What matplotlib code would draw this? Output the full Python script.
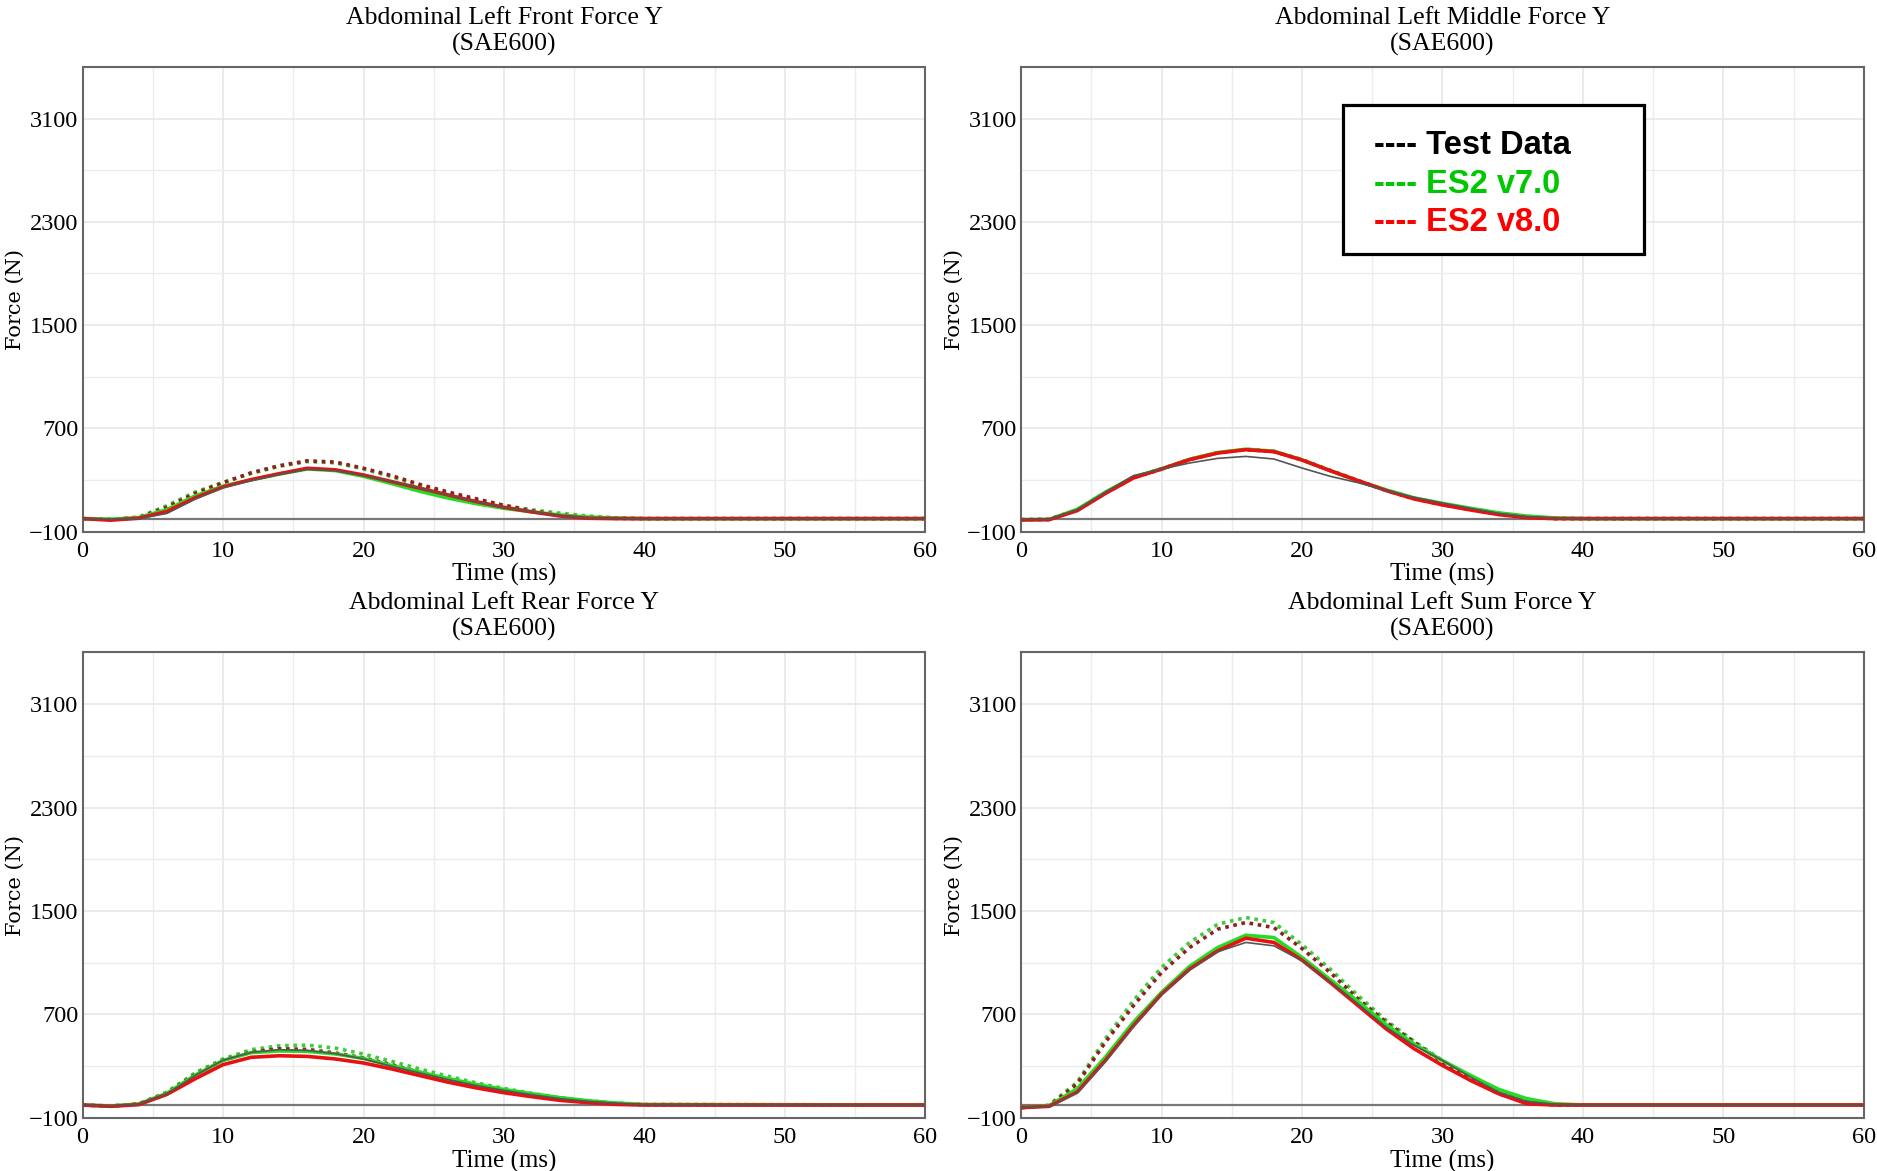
import matplotlib
matplotlib.use("Agg")
import matplotlib.pyplot as plt
from matplotlib.patches import Rectangle

# time grid (ms) and forces (N)
time_ms = [0, 2, 4, 6, 8, 10, 12, 14, 16, 18, 20, 22, 24, 26, 28, 30, 32, 34, 36, 38, 40, 60]

front_test = [0, -5, 0, 40, 150, 240, 295, 342, 382, 372, 335, 288, 236, 184, 132, 88, 54, 22, 5, 0, 0, 0]
front_v7 = [0, -5, 8, 70, 175, 252, 300, 345, 385, 372, 328, 272, 212, 160, 116, 80, 52, 28, 12, 4, 0, 0]
front_v7_dot = [0, -5, 12, 100, 205, 280, 350, 405, 442, 432, 385, 325, 255, 195, 144, 102, 68, 42, 20, 6, 0, 0]
front_v8 = [0, -12, 3, 55, 160, 245, 302, 348, 390, 378, 338, 287, 236, 184, 132, 88, 52, 20, 3, 0, 0, 0]
front_v8_dot = [0, -8, 8, 88, 195, 278, 355, 410, 448, 438, 390, 333, 265, 207, 154, 103, 60, 28, 10, 2, 0, 0]

middle_test = [-8, -6, 70, 205, 333, 384, 431, 467, 482, 462, 392, 328, 278, 217, 165, 121, 80, 41, 15, 2, 0, 0]
middle_v7 = [-8, -6, 72, 205, 322, 386, 460, 512, 538, 522, 455, 372, 292, 222, 160, 118, 80, 45, 20, 5, 0, 0]
middle_v7_dot = [-8, -6, 70, 200, 318, 384, 458, 510, 536, 521, 456, 374, 294, 220, 157, 114, 76, 40, 16, 4, 0, 0]
middle_v8 = [-10, -8, 62, 195, 315, 384, 457, 508, 534, 519, 454, 372, 294, 217, 152, 106, 67, 31, 8, 0, 0, 0]
middle_v8_dot = [-8, -6, 66, 198, 318, 385, 459, 510, 536, 520, 456, 373, 294, 218, 154, 108, 70, 34, 10, 0, 0, 0]

rear_test = [0, -8, 5, 85, 228, 346, 407, 428, 422, 397, 356, 299, 248, 197, 151, 113, 79, 49, 28, 13, 2, 0]
rear_v7 = [0, -8, 8, 90, 230, 345, 405, 418, 415, 395, 360, 305, 255, 205, 160, 120, 87, 57, 33, 15, 4, 0]
rear_v7_dot = [0, -8, 10, 100, 248, 356, 428, 458, 463, 440, 394, 338, 279, 223, 172, 128, 90, 56, 33, 15, 5, 0]
rear_v8 = [0, -10, 3, 82, 202, 312, 369, 381, 376, 356, 325, 279, 228, 177, 133, 95, 64, 36, 18, 5, 0, 0]
rear_v8_dot = [0, -8, 8, 92, 235, 346, 410, 435, 430, 402, 364, 312, 253, 197, 151, 110, 74, 44, 23, 10, 2, 0]

sum_test = [-20, -10, 95, 335, 610, 855, 1045, 1185, 1257, 1231, 1115, 950, 780, 600, 460, 344, 216, 100, 28, 5, 0, 0]
sum_v7 = [-20, -5, 126, 370, 640, 871, 1072, 1218, 1313, 1295, 1141, 970, 800, 620, 470, 344, 229, 121, 49, 10, 0, 0]
sum_v7_dot = [-20, 0, 177, 511, 807, 1064, 1257, 1398, 1450, 1411, 1240, 1051, 845, 653, 491, 344, 208, 100, 31, 3, 0, 0]
sum_v8 = [-20, -10, 100, 344, 614, 858, 1051, 1192, 1290, 1257, 1120, 948, 768, 588, 434, 306, 190, 87, 10, 0, 0, 0]
sum_v8_dot = [-20, -5, 164, 486, 768, 1025, 1218, 1360, 1411, 1372, 1210, 1025, 820, 640, 486, 331, 203, 87, 23, 0, 0, 0]

titles = ["Abdominal Left Front Force Y", "Abdominal Left Middle Force Y",
          "Abdominal Left Rear Force Y", "Abdominal Left Sum Force Y"]
series_labels = ["Test Data", "ES2 v7.0", "ES2 v8.0"]
y_ticks = [-100, 700, 1500, 2300, 3100]
x_ticks = [0, 10, 20, 30, 40, 50, 60]

panels = [
    (front_test, front_v7, front_v7_dot, front_v8, front_v8_dot),
    (middle_test, middle_v7, middle_v7_dot, middle_v8, middle_v8_dot),
    (rear_test, rear_v7, rear_v7_dot, rear_v8, rear_v8_dot),
    (sum_test, sum_v7, sum_v7_dot, sum_v8, sum_v8_dot),
]

serif = "Liberation Serif"
fig = plt.figure(figsize=(18.77, 11.71), dpi=100)

positions = [
    [0.0440, 0.5461, 0.449, 0.3967],
    [0.5440, 0.5461, 0.449, 0.3967],
    [0.0440, 0.0453, 0.449, 0.3976],
    [0.5440, 0.0453, 0.449, 0.3976],
]

for pos, title, (test, v7, v7d, v8, v8d) in zip(positions, titles, panels):
    ax = fig.add_axes(pos)
    ax.plot(time_ms, v7d, color="#3ccc3c", lw=2.6, ls=(0, (1, 1.3)), zorder=3)
    ax.plot(time_ms, v8d, color="#8e2020", lw=2.6, ls=(0, (1, 1.3)), zorder=3)
    ax.plot(time_ms, v7, color="#22dd22", lw=2.6, zorder=4)
    ax.plot(time_ms, v8, color="#e81010", lw=2.6, zorder=5)
    ax.plot(time_ms, test, color="#555555", lw=1.2, zorder=6)
    ax.axhline(0, color="#777777", lw=1.6, zorder=2)

    ax.set_xlim(0, 60)
    ax.set_ylim(-100, 3500)
    ax.set_xticks(x_ticks)
    ax.set_xticks(range(0, 61, 5), minor=True)
    ax.set_yticks(y_ticks)
    ax.set_yticks(range(-100, 3501, 400), minor=True)
    ax.grid(True, which="major", color="#e6e6e6", lw=1.1, zorder=0)
    ax.grid(True, which="minor", color="#ececec", lw=1.0, zorder=0)
    ax.tick_params(which="both", length=0)
    ax.tick_params(axis="x", pad=6.5)
    ax.tick_params(axis="y", pad=3)
    for lab in ax.get_xticklabels() + ax.get_yticklabels():
        lab.set_fontfamily(serif)
        lab.set_fontsize(17.5)
    for sp in ax.spines.values():
        sp.set_color("#666666")
        sp.set_linewidth(1.5)

    ax.set_title(title + "\n(SAE600)", fontfamily=serif, fontsize=18.5, pad=12, linespacing=1.2)
    ax.set_xlabel("Time (ms)", fontfamily=serif, fontsize=18)
    ax.xaxis.set_label_coords(0.5, -0.068)
    ax.set_ylabel("Force (N)", fontfamily="DejaVu Serif", fontsize=15)
    ax.yaxis.set_label_coords(-0.068, 0.5)

# legend box drawn as text, as in the original
fig.patches.append(Rectangle((0.7155, 0.7833), 0.1601, 0.1268, transform=fig.transFigure,
                             facecolor="white", edgecolor="black", lw=2.3, zorder=10))
legend_colors = ["black", "#00c800", "#ff0000"]
for i, (lab, col) in enumerate(zip(series_labels, legend_colors)):
    fig.text(0.732, 0.8754 - i * 0.0327, "---- " + lab, color=col, fontsize=23.5,
             fontweight="bold", fontfamily="Liberation Sans", va="center", ha="left", zorder=11)

fig.savefig("out.png", dpi=100)
